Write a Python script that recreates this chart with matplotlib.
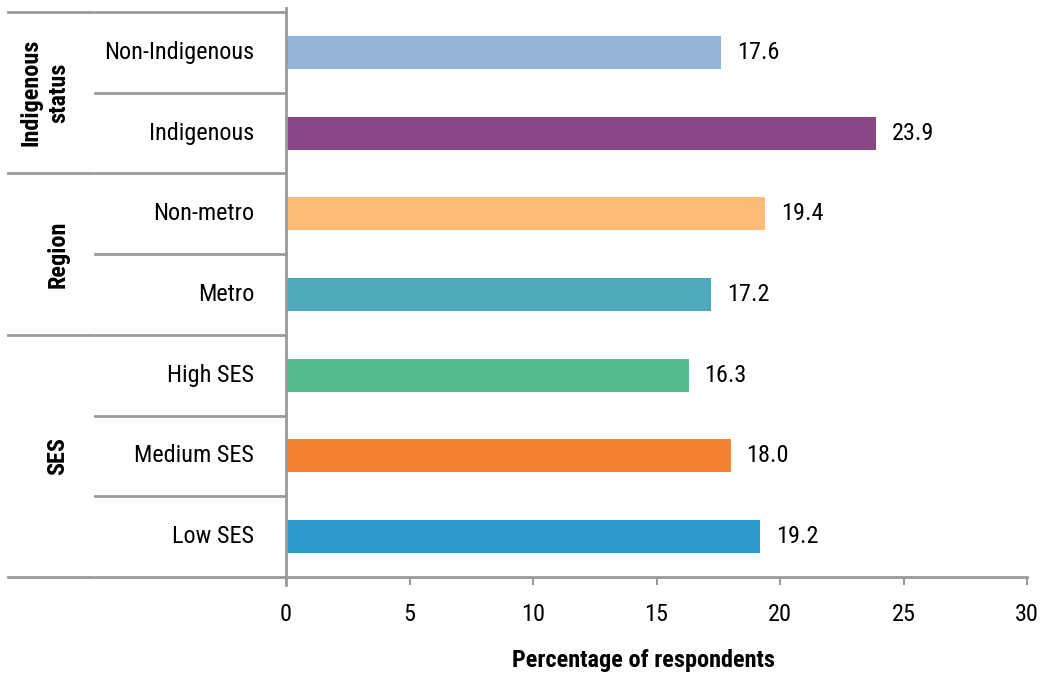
import matplotlib
matplotlib.use("Agg")
import matplotlib.pyplot as plt
from matplotlib.lines import Line2D
from matplotlib import font_manager

categories = ["Non-Indigenous", "Indigenous", "Non-metro", "Metro", "High SES", "Medium SES", "Low SES"]
values = [17.6, 23.9, 19.4, 17.2, 16.3, 18.0, 19.2]
colors = ["#95B3D7", "#8A4788", "#FBBC75", "#4CAABB", "#55BC8F", "#F58232", "#2E9ACC"]
groups = ["Indigenous\nstatus", "Region", "SES"]
group_rows = [(0, 1), (2, 3), (4, 6)]
xticks = [0, 5, 10, 15, 20, 25, 30]
xlabel = "Percentage of respondents"

# pick a condensed font with regular + bold static faces
weights = {}
for f in font_manager.fontManager.ttflist:
    if f.style == "normal" and "[" not in f.fname:
        weights.setdefault(f.name, set()).add(f.weight)
prefs = ["Roboto Condensed", "Barlow Semi Condensed", "Archivo Narrow", "PT Sans Narrow",
         "Asap Condensed", "Encode Sans Condensed", "IBM Plex Sans Condensed",
         "Liberation Sans Narrow", "Open Sans Condensed", "Barlow Condensed"]
fam = "DejaVu Sans"
for p in prefs:
    w = weights.get(p, set())
    if 400 in w and 700 in w:
        fam = p
        break
plt.rcParams['font.family'] = [fam, 'DejaVu Sans']

W, H = 1043, 673
fig = plt.figure(figsize=(W / 100, H / 100), dpi=100)
x0, x1 = 286, 1027
y0, y1 = 12, 577
ax = fig.add_axes([x0 / W, 1 - y1 / H, (x1 - x0) / W, (y1 - y0) / H])

ypos = list(range(len(categories)))
ax.barh(ypos, values, height=0.41, color=colors)
ax.set_xlim(0, 30)
ax.set_ylim(len(categories) - 0.5, -0.5)

FS = 17.5
for y, v in zip(ypos, values):
    ax.annotate(f"{v:.1f}", (v, y), xytext=(16, 0), textcoords="offset pixels",
                va="center", ha="left", fontsize=FS)

grey = "#9a9a9a"
for s in ["top", "right", "left"]:
    ax.spines[s].set_visible(False)
ax.spines["bottom"].set_color(grey)
ax.spines["bottom"].set_linewidth(2)
ax.set_yticks([])
ax.set_xticks(xticks)
ax.set_xticklabels([str(t) for t in xticks], fontsize=FS)
ax.tick_params(axis="x", colors=grey, labelcolor="black", length=6, width=1.5, pad=13)

fig.text(644 / W, 1 - 660 / H, xlabel, ha="center", va="center", fontsize=FS, fontweight="bold")

def ax_x(px):
    return (px - x0) / (x1 - x0)

tr = ax.get_yaxis_transform()
bounds = [-0.5 + i for i in range(len(categories) + 1)]
group_bounds = {-0.5, 1.5, 3.5, 6.5}
for b in bounds:
    ax.add_line(Line2D([ax_x(95), 0], [b, b], transform=tr, color=grey, lw=2, clip_on=False))
    if b in group_bounds:
        ax.add_line(Line2D([ax_x(8), ax_x(92)], [b, b], transform=tr, color=grey, lw=2, clip_on=False))
ax.add_line(Line2D([0, 0], [-0.55, 6.6], transform=tr, color=grey, lw=2, clip_on=False))

for y, c in zip(ypos, categories):
    ax.text(ax_x(254), y, c, transform=tr, ha="right", va="center", fontsize=FS)

for g, (a, b) in zip(groups, group_rows):
    multi = "\n" in g
    ax.text(ax_x(45 if multi else 58), (a + b) / 2, g, transform=tr, ha="center", va="center",
            rotation=90, fontsize=FS, fontweight="bold", linespacing=1.25)

fig.savefig("out.png", dpi=100)
